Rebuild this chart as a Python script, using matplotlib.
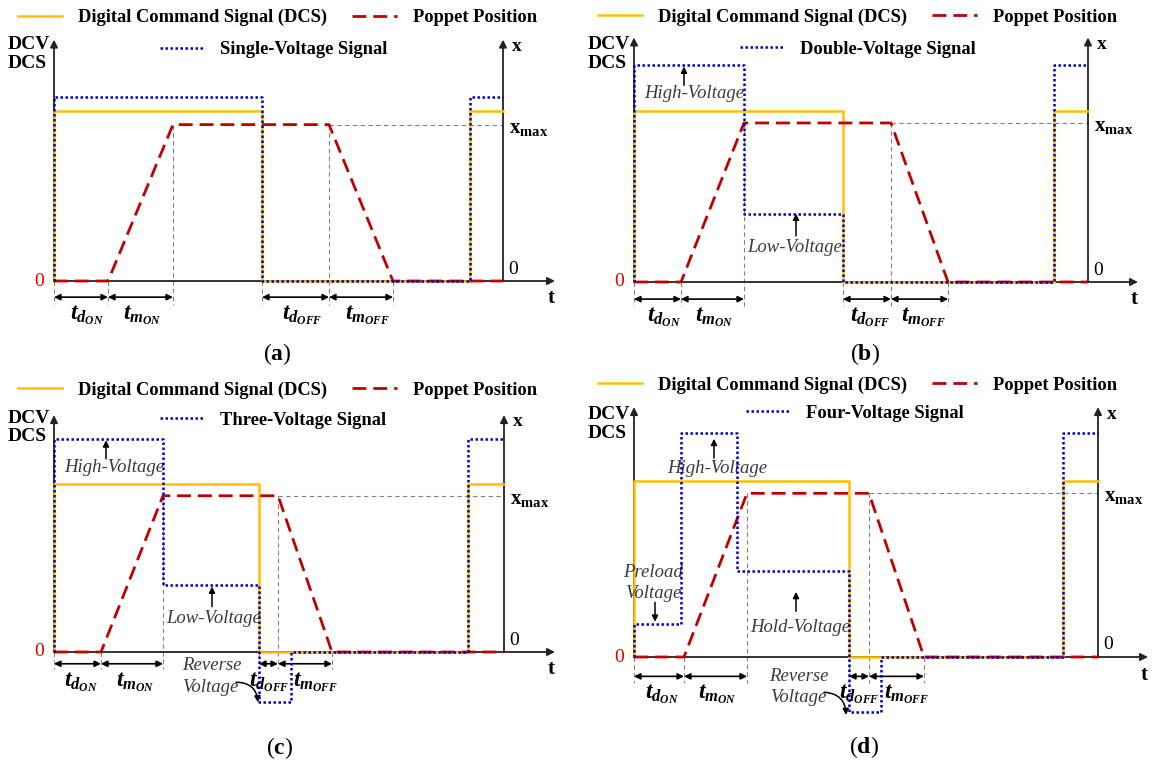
import matplotlib
matplotlib.use("Agg")
import matplotlib.pyplot as plt
from matplotlib.lines import Line2D

plt.rcParams['font.family'] = ['Liberation Serif', 'DejaVu Serif']
plt.rcParams['mathtext.fontset'] = 'custom'
plt.rcParams['mathtext.rm'] = 'Liberation Serif:bold'
plt.rcParams['mathtext.it'] = 'Liberation Serif:italic:bold'
plt.rcParams['mathtext.bf'] = 'Liberation Serif:bold'

YELLOW = '#FFC000'
RED = '#C00000'
BLUE = '#0000C0'
GREY = '#808080'
NOTE = '#3a3a3a'

# time in arbitrary units, levels normalised so that DCS "on" = 1
# edges: start, end of t_dON, end of t_mON, DCS off, end of t_dOFF, end of t_mOFF

# (a) single-voltage
a_edges = [0, 5.4, 11.9, 20.8, 27.5, 33.9]
a_dcs_t = [0, 0, 20.8, 20.8, 41.6, 41.6, 44.9]
a_dcs_v = [0, 1, 1, 0, 0, 1, 1]
a_sig_t = [0, 0, 20.8, 20.8, 41.6, 41.6, 44.9]
a_sig_v = [0, 1.08, 1.08, 0, 0, 1.08, 1.08]
a_pop_t = [0, 5.4, 11.9, 27.5, 33.9, 44.9]
a_pop_v = [0, 0, 0.92, 0.92, 0, 0]

# (b) double-voltage
b_edges = [0, 4.7, 11.0, 20.9, 25.7, 31.4]
b_dcs_t = [0, 0, 20.9, 20.9, 42.0, 42.0, 45.4]
b_dcs_v = [0, 1, 1, 0, 0, 1, 1]
b_sig_t = [0, 0, 11.0, 11.0, 20.9, 20.9, 42.0, 42.0, 45.4]
b_sig_v = [0, 1.27, 1.27, 0.40, 0.40, 0, 0, 1.27, 1.27]
b_pop_t = [0, 4.7, 11.0, 25.7, 31.4, 45.4]
b_pop_v = [0, 0, 0.93, 0.93, 0, 0]

# (c) three-voltage
c_edges = [0, 4.7, 10.9, 20.5, 22.4, 27.8]
c_dcs_t = [0, 0, 20.5, 20.5, 41.4, 41.4, 45.0]
c_dcs_v = [0, 1, 1, 0, 0, 1, 1]
c_sig_t = [0, 0, 10.9, 10.9, 20.5, 20.5, 23.7, 23.7, 41.4, 41.4, 45.0]
c_sig_v = [0, 1.27, 1.27, 0.40, 0.40, -0.30, -0.30, 0, 0, 1.27, 1.27]
c_pop_t = [0, 4.7, 10.9, 22.4, 27.8, 45.0]
c_pop_v = [0, 0, 0.93, 0.93, 0, 0]

# (d) four-voltage
d_edges = [0, 5.0, 11.3, 21.5, 23.5, 29.0]
d_dcs_t = [0, 0, 21.5, 21.5, 42.9, 42.9, 46.4]
d_dcs_v = [0, 1, 1, 0, 0, 1, 1]
d_sig_t = [0, 0, 4.7, 4.7, 10.3, 10.3, 21.5, 21.5, 24.7, 24.7, 42.9, 42.9, 46.4]
d_sig_v = [0, 0.19, 0.19, 1.27, 1.27, 0.49, 0.49, -0.31, -0.31, 0, 0, 1.27, 1.27]
d_pop_t = [0, 5.0, 11.3, 23.5, 29.0, 46.4]
d_pop_v = [0, 0, 0.93, 0.93, 0, 0]

sig_names = ['Single-Voltage Signal', 'Double-Voltage Signal',
             'Three-Voltage Signal', 'Four-Voltage Signal']
time_labels = [r'$t_{d_{ON}}$', r'$t_{m_{ON}}$', r'$t_{d_{OFF}}$', r'$t_{m_{OFF}}$']

# layout of each panel (pixels of the 1157x761 canvas, plus text spots in data units)
panels = [
    dict(rect=(0, 0, 578, 370), origin=(54, 281), sy=170,
         dcs=(a_dcs_t, a_dcs_v), sig=(a_sig_t, a_sig_v), pop=(a_pop_t, a_pop_v), edges=a_edges,
         name=sig_names[0], letter='a', axis_r=44.9, t_end=50.1, top=1.42,
         leg1=(-3.6, 1.55), leg2=(10.6, 1.36), dcv=1.39, dcs_lbl=1.28,
         arr_y=-0.095, guide_y=-0.14, lab_y=-0.20, lab_dx=[0.6, 0.2, 0.7, 0.7],
         letter_xy=(22.3, -0.43), notes=[], arrows=[], curve=None),
    dict(rect=(578, 0, 579, 370), origin=(634, 282), sy=171,
         dcs=(b_dcs_t, b_dcs_v), sig=(b_sig_t, b_sig_v), pop=(b_pop_t, b_pop_v), edges=b_edges,
         name=sig_names[1], letter='b', axis_r=45.4, t_end=50.4, top=1.43,
         leg1=(-3.6, 1.55), leg2=(10.6, 1.36), dcv=1.39, dcs_lbl=1.28,
         arr_y=-0.10, guide_y=-0.14, lab_y=-0.205, lab_dx=[0.6, 0.2, 0.3, 0.4],
         letter_xy=(23.1, -0.42),
         notes=[('High-Voltage', 6.0, 1.10), ('Low-Voltage', 16.1, 0.20)],
         arrows=[(5.0, 1.15, 1.26), (16.2, 0.27, 0.40)], curve=None),
    dict(rect=(0, 370, 578, 391), origin=(54, 652), sy=168,
         dcs=(c_dcs_t, c_dcs_v), sig=(c_sig_t, c_sig_v), pop=(c_pop_t, c_pop_v), edges=c_edges,
         name=sig_names[2], letter='c', axis_r=45.0, t_end=50.1, top=1.41,
         leg1=(-3.6, 1.56), leg2=(10.6, 1.38), dcv=1.39, dcs_lbl=1.28,
         arr_y=-0.07, guide_y=-0.10, lab_y=-0.18, lab_dx=[0.3, 0.3, 0.1, 1.1],
         letter_xy=(22.6, -0.57),
         notes=[('High-Voltage', 6.0, 1.10), ('Low-Voltage', 16.0, 0.20),
                ('Reverse', 15.8, -0.08), ('Voltage', 15.6, -0.21)],
         arrows=[(5.2, 1.15, 1.26), (15.8, 0.27, 0.39)],
         curve=((18.2, -0.18), (20.4, -0.30))),
    dict(rect=(578, 370, 579, 391), origin=(634, 657), sy=176,
         dcs=(d_dcs_t, d_dcs_v), sig=(d_sig_t, d_sig_v), pop=(d_pop_t, d_pop_v), edges=d_edges,
         name=sig_names[3], letter='d', axis_r=46.4, t_end=51.4, top=1.42,
         leg1=(-3.6, 1.545), leg2=(11.2, 1.385), dcv=1.38, dcs_lbl=1.27,
         arr_y=-0.11, guide_y=-0.15, lab_y=-0.21, lab_dx=[0.3, 0.2, 0.0, 1.0],
         letter_xy=(23.0, -0.51),
         notes=[('High-Voltage', 8.3, 1.07), ('Preload', 1.9, 0.48), ('Voltage', 1.9, 0.36),
                ('Hold-Voltage', 16.6, 0.165), ('Reverse', 16.5, -0.11), ('Voltage', 16.4, -0.23)],
         arrows=[(8.0, 1.13, 1.24), (2.1, 0.31, 0.20), (16.2, 0.26, 0.37)],
         curve=((19.0, -0.20), (21.2, -0.33))),
]

W, H = 1157, 761
fig = plt.figure(figsize=(W / 100, H / 100), dpi=100)

legend_font = dict(family='Liberation Serif', weight='bold', size=13.3)

for p in panels:
    left, top, w, h = p['rect']
    ox, oy = p['origin']
    sx, sy = 10.0, p['sy']
    ax = fig.add_axes([left / W, 1 - (top + h) / H, w / W, h / H])
    ax.set_xlim((left - ox) / sx, (left + w - ox) / sx)
    ax.set_ylim((oy - (top + h)) / sy, (oy - top) / sy)
    ax.axis('off')

    edges = p['edges']
    xmax = max(p['pop'][1])

    # grey construction lines
    for i, e in enumerate(edges):
        ytop = xmax if i in (2, 4) else 0
        ax.plot([e, e], [ytop, p['guide_y']], color=GREY, lw=0.8, ls=(0, (4, 3)), zorder=1)
    ax.plot([edges[4], p['axis_r']], [xmax, xmax], color=GREY, lw=0.8, ls=(0, (4, 3)), zorder=1)

    # axes with arrow heads
    arrow_kw = dict(arrowstyle='-|>', color='#222222', lw=1.3, mutation_scale=11,
                    shrinkA=0, shrinkB=0)
    ax.annotate('', xy=(0, p['top']), xytext=(0, 0), arrowprops=arrow_kw, zorder=2)
    ax.annotate('', xy=(p['axis_r'], p['top']), xytext=(p['axis_r'], 0), arrowprops=arrow_kw, zorder=2)
    ax.annotate('', xy=(p['t_end'], 0), xytext=(0, 0), arrowprops=arrow_kw, zorder=2)

    # signals
    ax.plot(p['dcs'][0], p['dcs'][1], color=YELLOW, lw=1.8, zorder=3, clip_on=False)
    ax.plot(p['pop'][0], p['pop'][1], color=RED, lw=2.0, ls=(0, (5, 2.5)), zorder=4, clip_on=False)
    ax.plot(p['sig'][0], p['sig'][1], color=BLUE, lw=1.8, ls=(0, (1, 1)), zorder=5, clip_on=False)

    # time interval arrows and labels
    spans = [(edges[0], edges[1]), (edges[1], edges[2]), (edges[3], edges[4]), (edges[4], edges[5])]
    for (t0, t1), lab, dx in zip(spans, time_labels, p['lab_dx']):
        ax.annotate('', xy=(t1, p['arr_y']), xytext=(t0, p['arr_y']),
                    arrowprops=dict(arrowstyle='<|-|>', color='black', lw=1.2,
                                    mutation_scale=9, shrinkA=0, shrinkB=0))
        ax.text((t0 + t1) / 2 + dx, p['lab_y'], lab, fontsize=17, ha='center', va='center')

    # axis labels
    ax.text(-4.6, p['dcv'], 'DCV', fontsize=14, fontweight='bold', ha='left', va='center')
    ax.text(-4.6, p['dcs_lbl'], 'DCS', fontsize=14, fontweight='bold', ha='left', va='center')
    ax.text(-1.5, 0, '0', fontsize=14, color='#E00000', ha='center', va='center')
    ax.text(p['axis_r'] + 0.5, 0.07, '0', fontsize=14, ha='left', va='center')
    ax.text(p['axis_r'] + 1.4, p['top'] - 0.04, 'x', fontsize=14, fontweight='bold',
            ha='center', va='center')
    ax.text(p['axis_r'] + 0.6, xmax - 0.02, r'$\mathrm{x}_{\mathrm{max}}$', fontsize=15,
            ha='left', va='center')
    ax.text(p['t_end'] - 0.4, -0.1, 't', fontsize=15, fontweight='bold', ha='center', va='center')
    ax.text(p['letter_xy'][0], p['letter_xy'][1], r'(' + r'$\mathbf{' + p['letter'] + '}$' + ')',
            fontsize=17, ha='center', va='center')

    # annotations
    for txt, x, y in p['notes']:
        ax.text(x, y, txt, fontsize=13.5, style='italic', color=NOTE, ha='center', va='center')
    for x, y0, y1 in p['arrows']:
        ax.annotate('', xy=(x, y1), xytext=(x, y0),
                    arrowprops=dict(arrowstyle='-|>', color='black', lw=1.1,
                                    mutation_scale=9, shrinkA=0, shrinkB=0))
    if p['curve'] is not None:
        start, end = p['curve']
        ax.annotate('', xy=end, xytext=start,
                    arrowprops=dict(arrowstyle='-|>', color='black', lw=1.1, mutation_scale=9,
                                    shrinkA=0, shrinkB=0, connectionstyle='arc3,rad=-0.45'))

    # legend: two entries on top row, signal type centred below
    h1 = [Line2D([], [], color=YELLOW, lw=1.8),
          Line2D([], [], color=RED, lw=2.0, ls=(0, (5, 2.5)))]
    leg1 = ax.legend(h1, ['Digital Command Signal (DCS)', 'Poppet Position'], ncol=2,
                     loc='center left', bbox_to_anchor=p['leg1'], bbox_transform=ax.transData,
                     frameon=False, prop=legend_font, handlelength=2.4, handletextpad=0.86,
                     columnspacing=1.35, borderpad=0, borderaxespad=0)
    ax.add_artist(leg1)
    h2 = [Line2D([], [], color=BLUE, lw=1.8, ls=(0, (1, 1)))]
    ax.legend(h2, [p['name']], loc='center left', bbox_to_anchor=p['leg2'],
              bbox_transform=ax.transData, frameon=False, prop=legend_font,
              handlelength=2.4, handletextpad=0.86, borderpad=0, borderaxespad=0)

fig.savefig('out.png', dpi=100, facecolor='white')
